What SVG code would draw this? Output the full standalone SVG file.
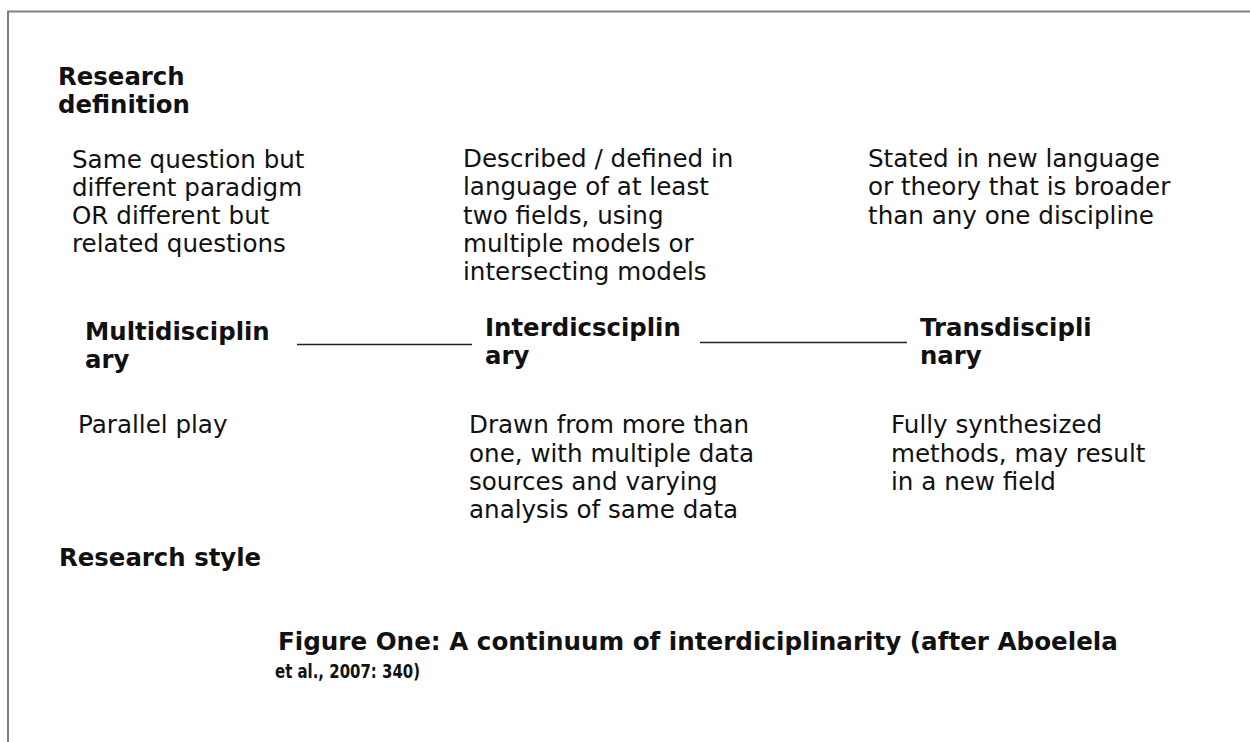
<svg xmlns="http://www.w3.org/2000/svg" width="1250" height="742" viewBox="0 0 1250 742">
<style>
text{font-family:"DejaVu Sans","Liberation Sans",sans-serif;font-size:24.6px;fill:#111}
.b{font-weight:bold;font-size:24.4px}
.cap{font-weight:bold;font-size:24.6px}
.cap2{font-weight:bold;font-size:19px}
.frame{fill:none;stroke:#808080;stroke-width:2}
.conn{stroke:#222;stroke-width:1.5;fill:none}
</style>
<rect width="1250" height="742" fill="#fff"/>
<path class="frame" d="M8,742 V11.5 H1250"/>
<g id="label-definition"><text class="b" x="58" y="85">Research</text><text class="b" x="58" y="113">definition</text></g>
<g id="def-multi"><text x="72" y="167.5">Same question but</text><text x="72" y="195.8">different paradigm</text><text x="72" y="224.1">OR different but</text><text x="72" y="252.4">related questions</text></g>
<g id="def-inter"><text x="463" y="167">Described / defined in</text><text x="463" y="195.3">language of at least</text><text x="463" y="223.6">two fields, using</text><text x="463" y="251.9">multiple models or</text><text x="463" y="280.2">intersecting models</text></g>
<g id="def-trans"><text x="868" y="167">Stated in new language</text><text x="868" y="195.3">or theory that is broader</text><text x="868" y="223.6">than any one discipline</text></g>
<g id="node-multi"><text class="b" x="85" y="340">Multidisciplin</text><text class="b" x="85" y="368.3">ary</text></g>
<g id="node-inter"><text class="b" x="485" y="336">Interdicsciplin</text><text class="b" x="485" y="364.3">ary</text></g>
<g id="node-trans"><text class="b" x="920" y="336">Transdiscipli</text><text class="b" x="920" y="364.3">nary</text></g>
<g id="connectors"><line class="conn" x1="297" y1="344.5" x2="472" y2="344.5"/><line class="conn" x1="700" y1="342.5" x2="907" y2="342.5"/></g>
<g id="style-multi"><text x="78" y="433">Parallel play</text></g>
<g id="style-inter"><text x="469" y="433.3">Drawn from more than</text><text x="469" y="461.6">one, with multiple data</text><text x="469" y="489.9">sources and varying</text><text x="469" y="518.2">analysis of same data</text></g>
<g id="style-trans"><text x="891" y="433.3">Fully synthesized</text><text x="891" y="461.6">methods, may result</text><text x="891" y="489.9">in a new field</text></g>
<g id="label-style"><text class="b" x="59" y="565.7">Research style</text></g>
<g id="caption"><text class="cap" x="278" y="650">Figure One: A continuum of interdiciplinarity (after Aboelela</text><text class="cap2" x="275" y="678" textLength="145" lengthAdjust="spacingAndGlyphs">et al., 2007: 340)</text></g>
</svg>
